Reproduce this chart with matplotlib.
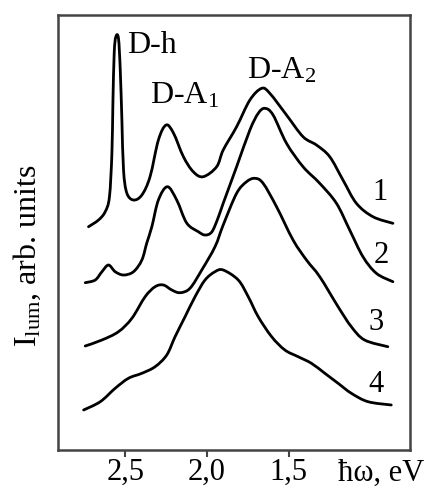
import numpy as np
import matplotlib
matplotlib.use('Agg')
import matplotlib.pyplot as plt
from matplotlib.path import Path
from matplotlib.patches import PathPatch

plt.rcParams['font.family'] = ['Liberation Serif', 'DejaVu Serif']
plt.rcParams['mathtext.fontset'] = 'custom'
plt.rcParams['mathtext.rm'] = 'Liberation Serif'
plt.rcParams['mathtext.it'] = 'Liberation Serif:italic'

# photon energy (eV) and luminescence intensity (arb. units, curves offset)
E1 = [2.724, 2.663, 2.622, 2.596, 2.581, 2.575, 2.567, 2.557, 2.541, 2.530, 2.520,
      2.510, 2.490, 2.449, 2.398, 2.348, 2.297, 2.250, 2.205, 2.144, 2.084, 2.023,
      1.941, 1.901, 1.819, 1.738, 1.666, 1.616, 1.514, 1.413, 1.331, 1.250, 1.169,
      1.087, 0.986, 0.864]
I1 = [2.233, 2.300, 2.383, 2.533, 2.970, 3.470, 3.970, 4.133, 4.117, 3.800, 3.300,
      2.800, 2.570, 2.500, 2.550, 2.733, 3.100, 3.250, 3.170, 2.933, 2.783, 2.733,
      2.833, 3.000, 3.233, 3.500, 3.617, 3.567, 3.350, 3.133, 3.050, 2.933, 2.700,
      2.467, 2.333, 2.267]

E2 = [2.744, 2.683, 2.642, 2.602, 2.561, 2.510, 2.449, 2.398, 2.368, 2.337, 2.297,
      2.242, 2.185, 2.124, 2.053, 2.012, 1.971, 1.935, 1.901, 1.819, 1.738, 1.687,
      1.646, 1.596, 1.514, 1.413, 1.311, 1.209, 1.128, 1.047, 0.965, 0.864]
I2 = [1.673, 1.700, 1.783, 1.850, 1.783, 1.750, 1.783, 1.900, 2.070, 2.233, 2.500,
      2.633, 2.500, 2.270, 2.183, 2.150, 2.180, 2.310, 2.467, 2.833, 3.200, 3.367,
      3.417, 3.350, 3.067, 2.833, 2.667, 2.467, 2.200, 1.933, 1.767, 1.683]

E3 = [2.744, 2.642, 2.541, 2.459, 2.378, 2.317, 2.266, 2.215, 2.165, 2.104, 2.032,
      1.951, 1.901, 1.819, 1.758, 1.707, 1.657, 1.575, 1.474, 1.392, 1.311, 1.199,
      1.118, 1.037, 0.895]
I3 = [1.040, 1.100, 1.183, 1.317, 1.533, 1.633, 1.650, 1.600, 1.573, 1.617, 1.800,
      2.033, 2.250, 2.567, 2.683, 2.717, 2.667, 2.433, 2.100, 1.900, 1.733, 1.433,
      1.233, 1.100, 1.033]

E4 = [2.754, 2.652, 2.561, 2.480, 2.398, 2.317, 2.246, 2.195, 2.134, 2.073, 2.012,
      1.951, 1.901, 1.809, 1.748, 1.687, 1.605, 1.524, 1.443, 1.362, 1.280, 1.199,
      1.118, 1.016, 0.874]
I4 = [0.400, 0.483, 0.617, 0.717, 0.767, 0.833, 0.950, 1.133, 1.333, 1.533, 1.700,
      1.783, 1.800, 1.700, 1.533, 1.333, 1.133, 1.000, 0.933, 0.867, 0.767, 0.667,
      0.567, 0.483, 0.450]

curve_labels = ['1', '2', '3', '4']
label_pos = [(0.945, 2.58), (0.935, 1.95), (0.965, 1.28), (0.965, 0.65)]

peak_names = ['D-h', 'D-A$_1$', 'D-A$_2$']
peak_pos = [(2.488, 3.97), (2.348, 3.47), (1.756, 3.72)]

xticks = [2.5, 2.0, 1.5]
xticklabels = ['2,5', '2,0', '1,5']


def smooth_path(x, y):
    # Catmull-Rom through the read points, drawn as cubic Bezier segments
    pts = np.column_stack([x, y])
    verts = [pts[0]]
    codes = [Path.MOVETO]
    n = len(pts)
    for i in range(n - 1):
        p0 = pts[i - 1] if i > 0 else pts[i]
        p1, p2 = pts[i], pts[i + 1]
        p3 = pts[i + 2] if i + 2 < n else pts[i + 1]
        verts += [p1 + (p2 - p0) / 6, p2 - (p3 - p1) / 6, p2]
        codes += [Path.CURVE4] * 3
    return Path(verts, codes)


fig = plt.figure(figsize=(4.27, 4.92), dpi=100)
ax = fig.add_axes([0.136, 0.0854, 0.824, 0.884])

for E, I in [(E1, I1), (E2, I2), (E3, I3), (E4, I4)]:
    ax.add_patch(PathPatch(smooth_path(E, I), fill=False, edgecolor='black',
                           lw=2.0, capstyle='round', joinstyle='round'))

for lab, (x, y) in zip(curve_labels, label_pos):
    ax.text(x, y, lab, fontsize=22, ha='center', va='center')

for name, (x, y) in zip(peak_names, peak_pos):
    ax.text(x, y, name, fontsize=23, ha='left', va='baseline')

ax.set_xlim(2.91, 0.76)
ax.set_ylim(0, 4.35)
ax.set_xticks(xticks)
ax.set_xticklabels(xticklabels, fontsize=22)
ax.set_yticks([])
ax.tick_params(axis='x', direction='out', length=5, width=1.5, pad=1, color='#444444')
for sp in ax.spines.values():
    sp.set_linewidth(1.8)
    sp.set_color('#444444')

ax.text(0.918, -0.053, 'ħω, eV', transform=ax.transAxes, fontsize=22,
        ha='center', va='center')
ax.set_ylabel('I$_{\\rm lum}$, arb. units', fontsize=23, va='center')
ax.yaxis.set_label_coords(-0.088, 0.446)

fig.savefig('out.png', dpi=100)
